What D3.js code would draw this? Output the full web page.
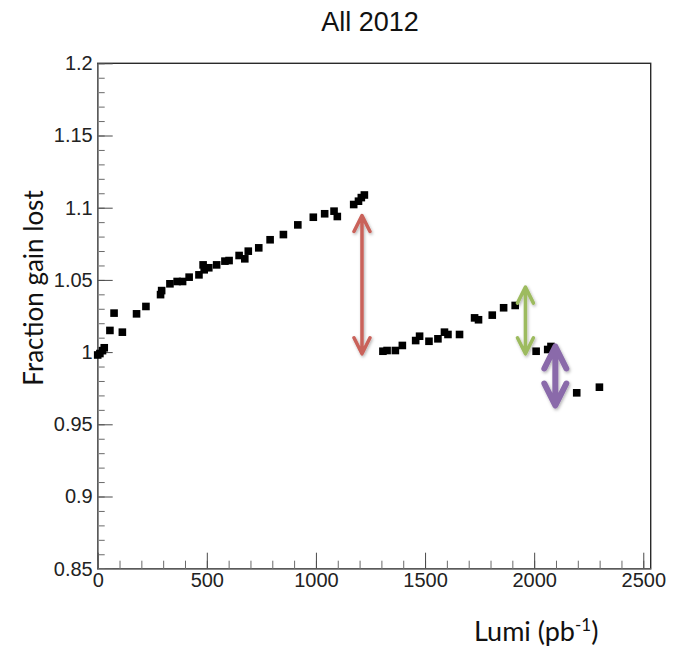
<!DOCTYPE html>
<html>
<head>
<meta charset="utf-8">
<script src="https://cdn.jsdelivr.net/npm/d3@7"></script>
<style>
  body { margin: 0; background: #fff; }
  svg { display: block; }
</style>
</head>
<body>
<svg id="chart" width="674" height="647"></svg>
<script>
// Integrated luminosity (pb^-1) and fraction of gain lost, 2012 run
const lumi = [
  0, 10, 22, 30, 56, 75, 113, 178, 221, 288, 293, 331, 364, 389, 419, 464,
  483, 488, 509, 545, 583, 602, 648, 674, 690, 738, 790, 851, 917, 988,
  1040, 1083, 1098, 1173, 1195, 1208, 1222,
  1307, 1326, 1364, 1396, 1457, 1475, 1518, 1559, 1589, 1605, 1658, 1727,
  1745, 1808, 1860, 1913, 2009, 2062, 2077, 2195, 2299
];
const fraction = [
  0.998, 0.999, 1.001, 1.003, 1.015, 1.027, 1.0138, 1.0265, 1.0316, 1.0398,
  1.0426, 1.0473, 1.0489, 1.0489, 1.0519, 1.0535, 1.0604, 1.057, 1.0584,
  1.0604, 1.063, 1.0634, 1.0669, 1.0646, 1.0699, 1.0722, 1.0778, 1.0814,
  1.0881, 1.0934, 1.0958, 1.0976, 1.0939, 1.1022, 1.1045, 1.107, 1.1088,
  1.0006, 1.0011, 1.0011, 1.0046, 1.008, 1.011, 1.0075, 1.0092, 1.0138,
  1.0122, 1.0122, 1.0237, 1.0224, 1.0256, 1.0307, 1.0323, 1.0006, 1.0018,
  1.0039, 0.9718, 0.9757
];

// Axis ticks
const xTickValues = [0, 500, 1000, 1500, 2000, 2500];
const xTickLabels = ["0", "500", "1000", "1500", "2000", "2500"];
const yTickValues = [0.85, 0.9, 0.95, 1, 1.05, 1.1, 1.15, 1.2];
const yTickLabels = ["0.85", "0.9", "0.95", "1", "1.05", "1.1", "1.15", "1.2"];

// Gain steps marked with double arrows: position and the two levels
const stepLumi = [1211, 1960, 2097];
const stepLow = [0.9988, 0.9988, 0.963];
const stepHigh = [1.0946, 1.045, 1.0039];
const stepColor = ["#c9625a", "#9dbb5e", "#8a6aaa"];
const stepWidth = [3.5, 3.5, 6];
const stepHead = [8, 8, 11];

const svg = d3.select("#chart");

const plotL = 97.7, plotR = 650.7, plotT = 63.3, plotB = 568.7;
const x = d3.scaleLinear().domain([0, 2534]).range([plotL, plotR]);
const y = d3.scaleLinear().domain([0.85, 1.2]).range([plotB, plotT]);

const defs = svg.append("defs");
const shadow = defs.append("filter").attr("id", "soft")
  .attr("x", "-50%").attr("y", "-20%").attr("width", "200%").attr("height", "140%");
shadow.append("feDropShadow")
  .attr("dx", 1).attr("dy", 1.5).attr("stdDeviation", 1.6)
  .attr("flood-color", "#000").attr("flood-opacity", 0.3);

// Frame
svg.append("rect")
  .attr("x", plotL).attr("y", plotT)
  .attr("width", plotR - plotL).attr("height", plotB - plotT)
  .attr("fill", "none").attr("stroke", "#2a2a2a").attr("stroke-width", 1.4);

const tickFont = "Arial, 'Liberation Sans', Helvetica, sans-serif";
const labelFont = "Lato, 'Open Sans', sans-serif";

// Minor ticks
svg.append("g").attr("transform", `translate(${plotL},0)`)
  .call(d3.axisLeft(y).tickValues(d3.range(85, 121).map(v => v / 100))
    .tickSize(-7).tickSizeOuter(0).tickFormat(""))
  .call(g => g.select(".domain").remove())
  .call(g => g.selectAll("line").attr("stroke", "#6a6a6a"));

svg.append("g").attr("transform", `translate(0,${plotB})`)
  .call(d3.axisBottom(x).tickValues(d3.range(0, 2501, 100))
    .tickSize(-8).tickSizeOuter(0).tickFormat(""))
  .call(g => g.select(".domain").remove())
  .call(g => g.selectAll("line").attr("stroke", "#6a6a6a"));

// Major ticks with labels
const yAxis = svg.append("g").attr("transform", `translate(${plotL},0)`)
  .call(d3.axisLeft(y).tickValues(yTickValues).tickSize(-15).tickSizeOuter(0)
    .tickPadding(5).tickFormat((d, i) => yTickLabels[i]));
yAxis.select(".domain").attr("stroke", "#8a8a8a").attr("stroke-width", 1.4);
yAxis.selectAll("line").attr("stroke", "#4a4a4a");
yAxis.selectAll("text").attr("font-family", tickFont).attr("font-size", 20)
  .attr("fill", "#222");

const xAxis = svg.append("g").attr("transform", `translate(0,${plotB})`)
  .call(d3.axisBottom(x).tickValues(xTickValues).tickSize(-16).tickSizeOuter(0)
    .tickPadding(4).tickFormat((d, i) => xTickLabels[i]));
xAxis.select(".domain").attr("stroke", "#8a8a8a").attr("stroke-width", 1.4);
xAxis.selectAll("line").attr("stroke", "#4a4a4a");
xAxis.selectAll("text").attr("font-family", tickFont).attr("font-size", 20)
  .attr("fill", "#222");

// Data points
const pts = lumi.map((v, i) => ({ lumi: v, frac: fraction[i] }));
const size = 7.6;
svg.append("g").selectAll("rect").data(pts).join("rect")
  .attr("x", d => x(d.lumi) - size / 2)
  .attr("y", d => y(d.frac) - size / 2)
  .attr("width", size).attr("height", size)
  .attr("fill", "#000");

// Double-headed arrows for gain steps
const steps = stepLumi.map((v, i) => ({
  lumi: v, lo: stepLow[i], hi: stepHigh[i],
  color: stepColor[i], w: stepWidth[i], h: stepHead[i]
}));
const ag = svg.append("g").attr("filter", "url(#soft)");
steps.forEach(s => {
  const cx = x(s.lumi), y0 = y(s.hi), y1 = y(s.lo);
  const hl = s.h * 2;
  const p = d3.path();
  p.moveTo(cx, y0 + 1); p.lineTo(cx, y1 - 1);
  p.moveTo(cx - s.h, y0 + hl); p.lineTo(cx, y0); p.lineTo(cx + s.h, y0 + hl);
  p.moveTo(cx - s.h, y1 - hl); p.lineTo(cx, y1); p.lineTo(cx + s.h, y1 - hl);
  ag.append("path").attr("d", p.toString())
    .attr("fill", "none").attr("stroke", s.color)
    .attr("stroke-width", s.w).attr("stroke-linecap", "round")
    .attr("stroke-linejoin", "round");
});

// Titles
svg.append("text")
  .attr("x", 370).attr("y", 31).attr("text-anchor", "middle")
  .attr("font-family", tickFont).attr("font-size", 27).attr("fill", "#111")
  .text("All 2012");

svg.append("text")
  .attr("transform", "translate(43,288) rotate(-90)")
  .attr("text-anchor", "middle")
  .attr("font-family", labelFont).attr("font-size", 26)
  .attr("fill", "#111")
  .text("Fraction gain lost");

const xt = svg.append("text")
  .attr("x", 474).attr("y", 641)
  .attr("font-family", labelFont).attr("font-size", 27)
  .attr("fill", "#111");
xt.append("tspan").text("Lumi (pb");
xt.append("tspan").attr("dy", -10).attr("font-size", 17).text("-1");
xt.append("tspan").attr("dy", 10).text(")");
</script>
</body>
</html>
